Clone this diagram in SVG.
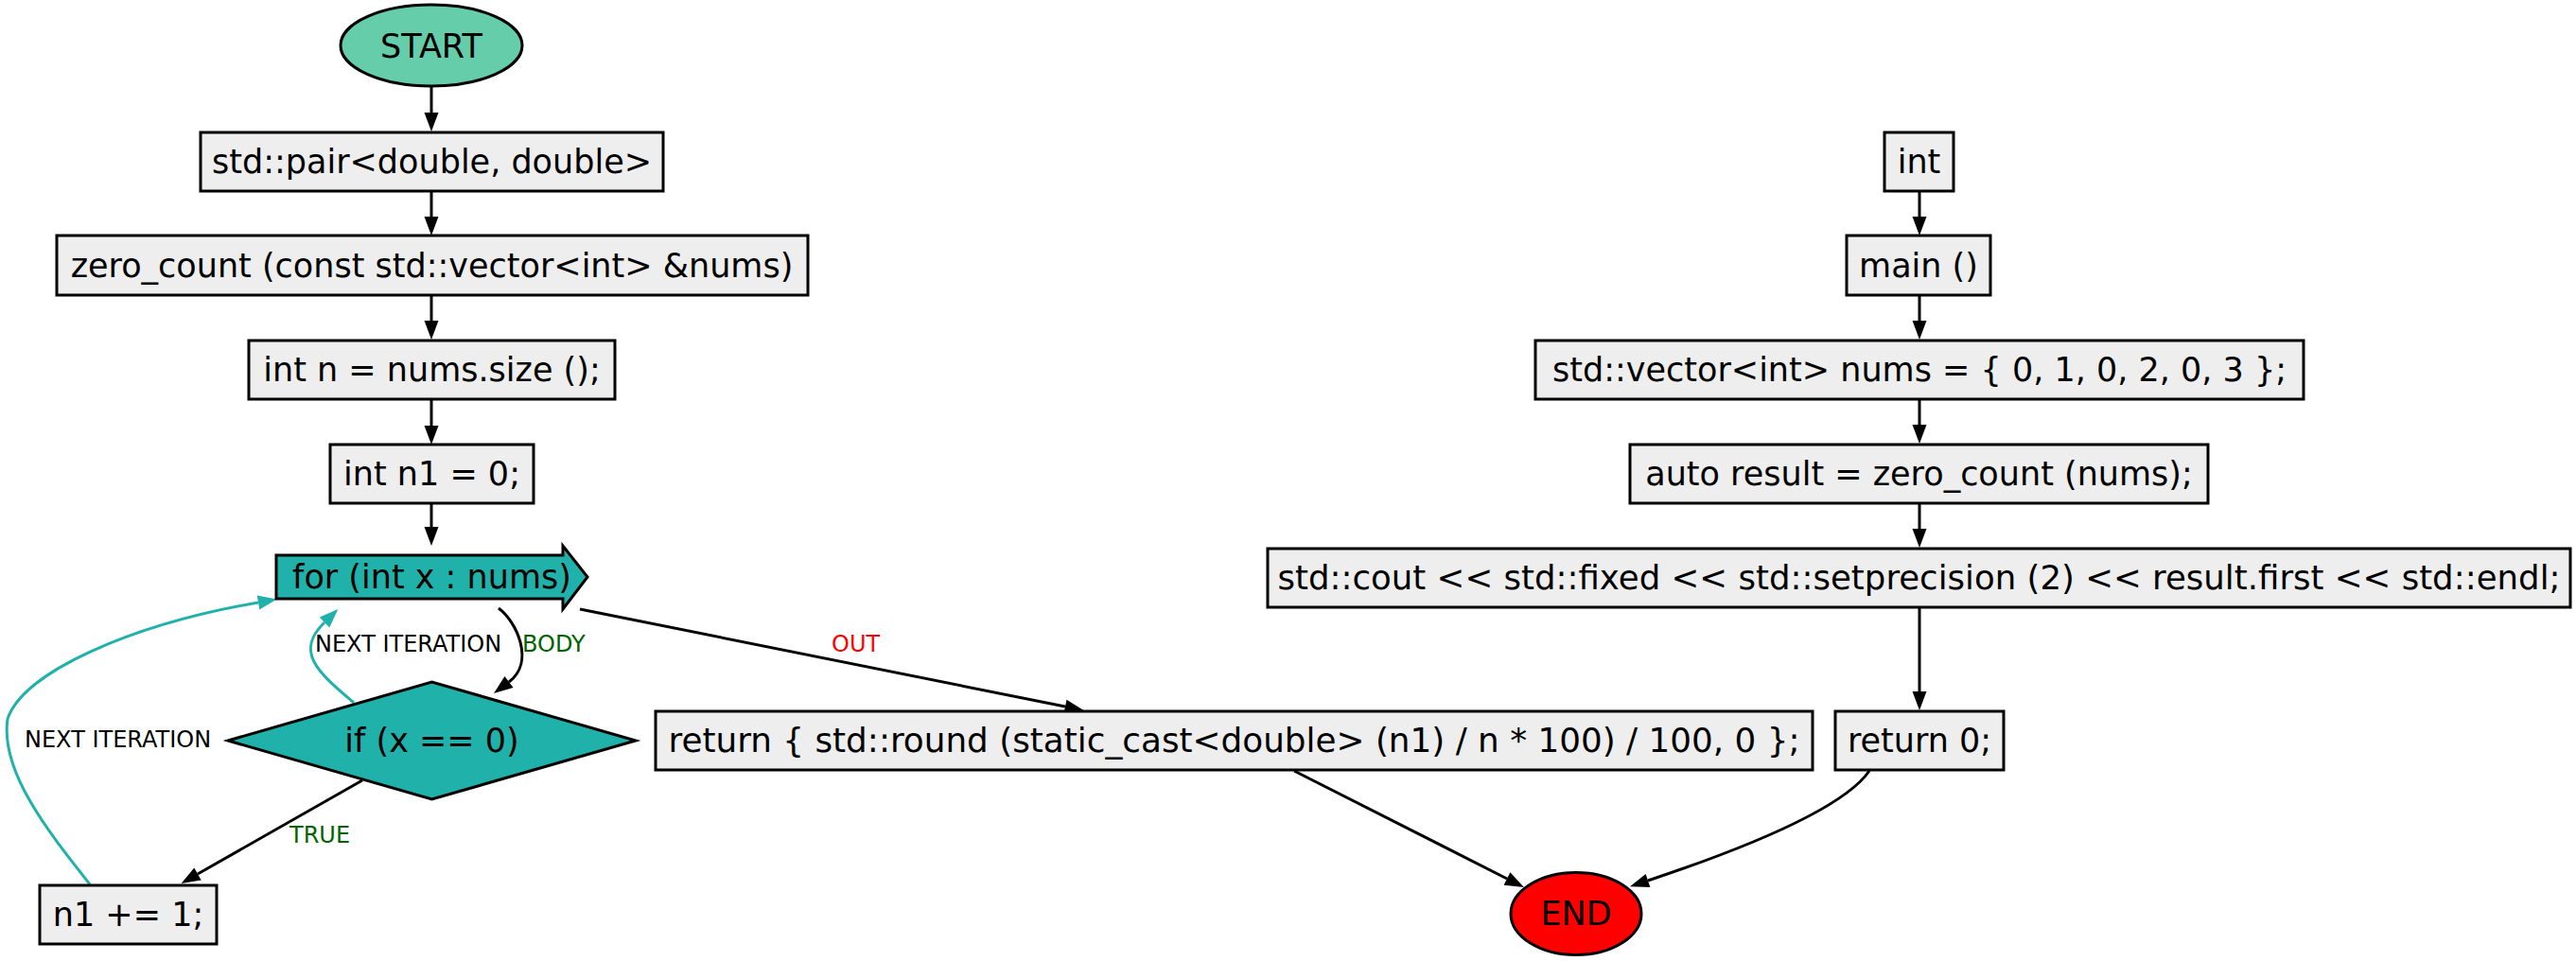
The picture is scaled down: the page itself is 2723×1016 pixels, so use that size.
<svg xmlns="http://www.w3.org/2000/svg" width="2723" height="1016" viewBox="0 0 2723 1016">
<style>
.box{fill:#eeeeee;stroke:#000;stroke-width:3}
.t{font-family:"DejaVu Sans","Liberation Sans",sans-serif;font-size:35px;text-anchor:middle;fill:#000}
.l{font-family:"DejaVu Sans","Liberation Sans",sans-serif;font-size:24px;fill:#000}
.e{fill:none;stroke:#000;stroke-width:3}
.et{fill:none;stroke:#20b2aa;stroke-width:3}
</style>
<defs>
<marker id="ah" markerUnits="userSpaceOnUse" markerWidth="21" markerHeight="16" refX="0" refY="7.5" orient="auto" overflow="visible"><path d="M0,0 L20,7.5 L0,15 z" fill="#000"/></marker>
<marker id="aht" markerUnits="userSpaceOnUse" markerWidth="21" markerHeight="16" refX="0" refY="7.5" orient="auto" overflow="visible"><path d="M0,0 L20,7.5 L0,15 z" fill="#20b2aa"/></marker>
</defs>
<rect width="2723" height="1016" fill="#fff"/>
<g id="edges">
<path class="e" d="M456,91 L456,119" marker-end="url(#ah)"/>
<path class="e" d="M456,202 L456,229" marker-end="url(#ah)"/>
<path class="e" d="M456,312 L456,339" marker-end="url(#ah)"/>
<path class="e" d="M456,422 L456,450" marker-end="url(#ah)"/>
<path class="e" d="M456,532 L456,557" marker-end="url(#ah)"/>
<path class="e" d="M527,643 C546,657 566,700 538,721" marker-end="url(#ah)"/>
<text class="l" x="552" y="689" style="fill:#006400">BODY</text>
<path class="et" d="M374,743 C338,712 310,690 343,658" marker-end="url(#aht)"/>
<text class="l" x="333" y="689">NEXT ITERATION</text>
<path class="e" d="M383,825 L209,924" marker-end="url(#ah)"/>
<text class="l" x="306" y="891" style="fill:#006400">TRUE</text>
<path class="et" d="M95,935 C50,878 0,815 8,760 C25,710 140,660 273,637" marker-end="url(#aht)"/>
<text class="l" x="26" y="790">NEXT ITERATION</text>
<path class="e" d="M613,644 L1126,747" marker-end="url(#ah)"/>
<text class="l" x="879" y="689" style="fill:#ff0000">OUT</text>
<path class="e" d="M1368,815 L1593,929" marker-end="url(#ah)"/>
<path class="e" d="M1976,815 C1952,850 1865,890 1742,931" marker-end="url(#ah)"/>
<path class="e" d="M2029,202 L2029,229" marker-end="url(#ah)"/>
<path class="e" d="M2029,312 L2029,339" marker-end="url(#ah)"/>
<path class="e" d="M2029,422 L2029,449" marker-end="url(#ah)"/>
<path class="e" d="M2029,532 L2029,559" marker-end="url(#ah)"/>
<path class="e" d="M2029,642 L2029,731" marker-end="url(#ah)"/>
</g>
<g id="start"><ellipse cx="456" cy="48" rx="96" ry="43" fill="#66cdaa" stroke="#000" stroke-width="3"/><text class="t" x="456" y="61">START</text></g>
<g id="pair"><rect class="box" x="212" y="140" width="489" height="62"/><text class="t" x="456.5" y="183">std::pair&lt;double, double&gt;</text></g>
<g id="zero_count"><rect class="box" x="60" y="249" width="794" height="63"/><text class="t" x="456.5" y="293">zero_count (const std::vector&lt;int&gt; &amp;nums)</text></g>
<g id="int_n"><rect class="box" x="263" y="360" width="387" height="62"/><text class="t" x="456.5" y="403">int n = nums.size ();</text></g>
<g id="int_n1"><rect class="box" x="349" y="470" width="215" height="62"/><text class="t" x="456.5" y="513">int n1 = 0;</text></g>
<g id="for"><path d="M292,587 L595,587 L595,577 L621,610 L595,644 L595,633 L292,633 Z" fill="#20b2aa" stroke="#000" stroke-width="3"/><text class="t" x="456.5" y="622">for (int x : nums)</text></g>
<g id="if"><path d="M241,783 L456.5,721 L672,783 L456.5,845 Z" fill="#20b2aa" stroke="#000" stroke-width="3"/><text class="t" x="456.5" y="795">if (x == 0)</text></g>
<g id="n1_inc"><rect class="box" x="42" y="936" width="187" height="62"/><text class="t" x="135.5" y="979">n1 += 1;</text></g>
<g id="return_round"><rect class="box" x="693" y="752" width="1223" height="62"/><text class="t" x="1304.5" y="795" textLength="1196" lengthAdjust="spacingAndGlyphs">return { std::round (static_cast&lt;double&gt; (n1) / n * 100) / 100, 0 };</text></g>
<g id="end"><ellipse cx="1666" cy="966" rx="69" ry="43.5" fill="#ff0000" stroke="#000" stroke-width="3"/><text class="t" x="1666" y="978">END</text></g>
<g id="int"><rect class="box" x="1992" y="140" width="73" height="62"/><text class="t" x="2028.5" y="183">int</text></g>
<g id="main"><rect class="box" x="1952" y="249" width="152" height="63"/><text class="t" x="2028" y="293">main ()</text></g>
<g id="vector"><rect class="box" x="1623" y="360" width="812" height="62"/><text class="t" x="2029" y="403">std::vector&lt;int&gt; nums = { 0, 1, 0, 2, 0, 3 };</text></g>
<g id="auto"><rect class="box" x="1723" y="470" width="611" height="62"/><text class="t" x="2028.5" y="513">auto result = zero_count (nums);</text></g>
<g id="cout"><rect class="box" x="1340" y="580" width="1377" height="62"/><text class="t" x="2028.5" y="623" textLength="1356" lengthAdjust="spacingAndGlyphs">std::cout &lt;&lt; std::fixed &lt;&lt; std::setprecision (2) &lt;&lt; result.first &lt;&lt; std::endl;</text></g>
<g id="return0"><rect class="box" x="1940" y="752" width="178" height="62"/><text class="t" x="2029" y="795">return 0;</text></g>
</svg>
